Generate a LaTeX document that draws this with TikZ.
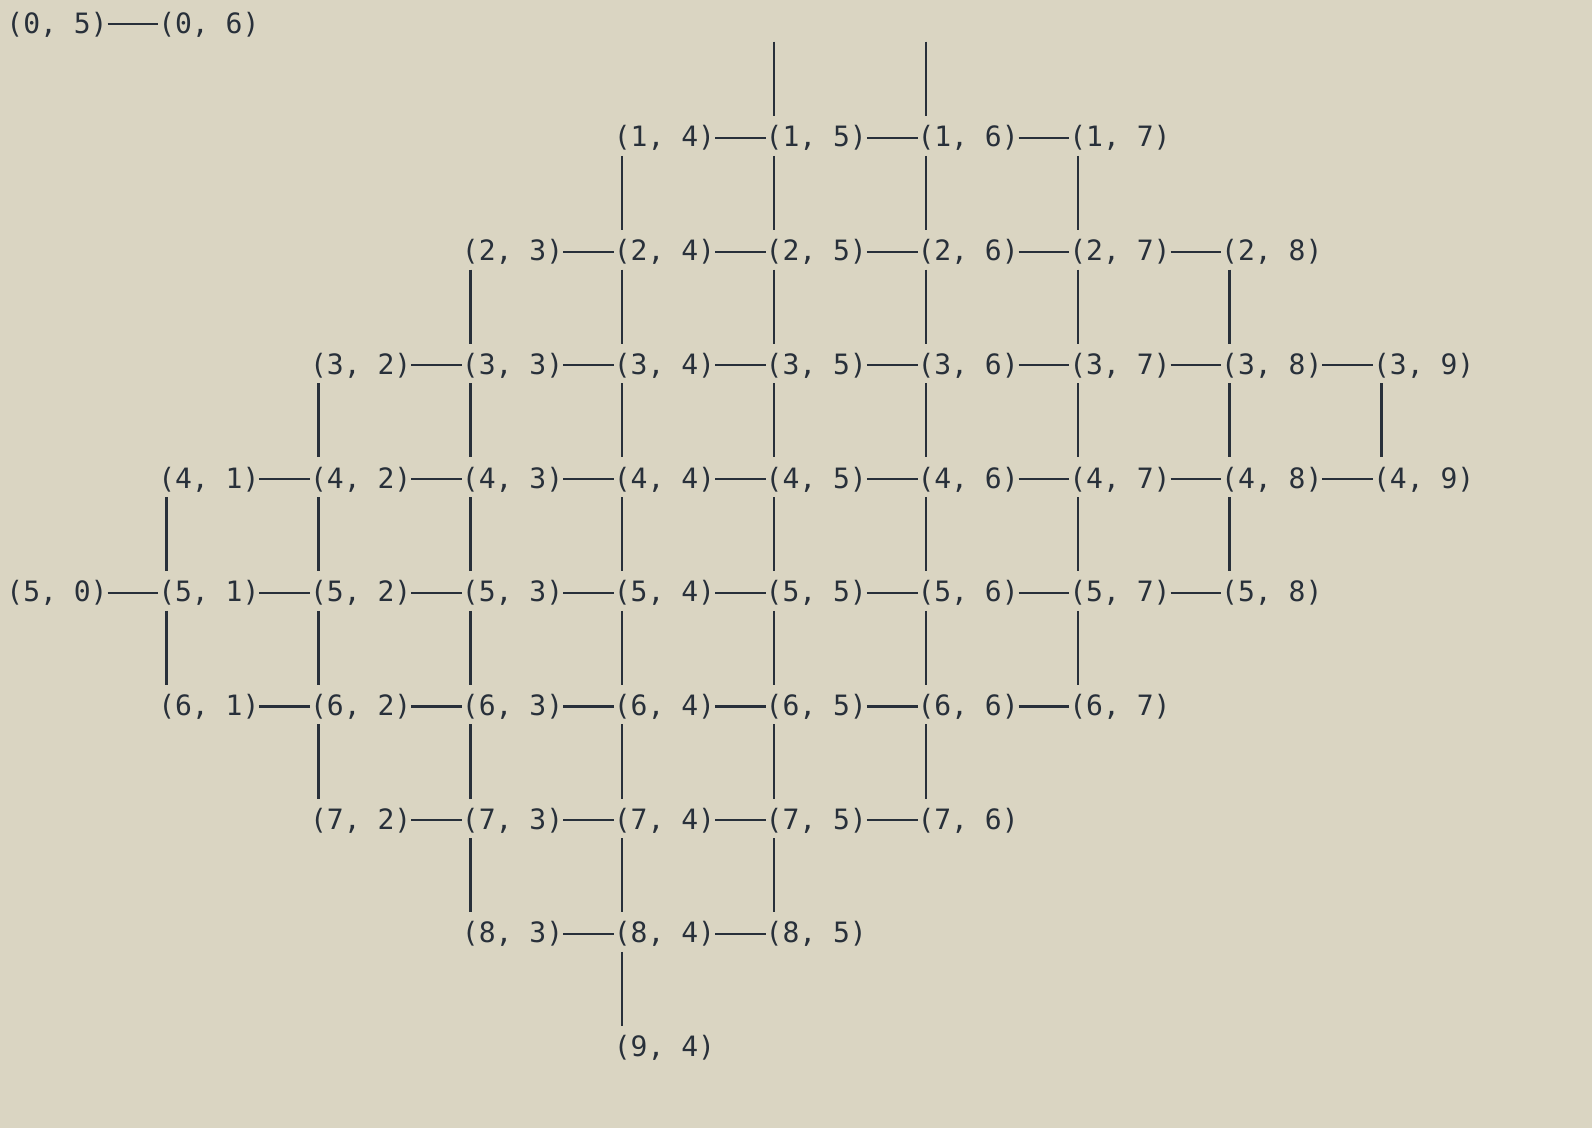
\documentclass[tikz,border=0pt]{standalone}
\usepackage{fontspec}
\newfontfamily\monofont{DejaVu Sans Mono}
\definecolor{bg}{RGB}{218,213,194}
\definecolor{ink}{RGB}{40,48,58}
\begin{document}
\begin{tikzpicture}[x=0.5pt,y=-0.5pt,
  lbl/.style={anchor=base west, inner sep=0pt, outer sep=0pt, text=ink,
    font=\monofont\fontsize{14.01}{16}\selectfont},
  hlink/.style={draw=ink, line width=1.05pt},
  vlink/.style={draw=ink, line width=1.2pt}]
\fill[bg] (0,0) rectangle (1592,1128);
\useasboundingbox (0,0) rectangle (1592,1128);
% row 0 (printed at the left)
\node[lbl] (n05) at (6.4,33.3) {(0, 5)};
\node[lbl] (n06) at ({6.4+151.85},33.3) {(0, 6)};
\draw[hlink] ([yshift=4.5pt]n05.base east) -- ([yshift=4.5pt]n06.base west);
% grid nodes
\foreach \rr/\aa/\bb in {1/4/7,2/3/8,3/2/9,4/1/9,5/0/8,6/1/7,7/2/6,8/3/5,9/4/4}{
  \foreach \cc in {\aa,...,\bb}{
    \node[lbl] (n\rr\cc) at ({6.4+151.85*\cc},{33.3+113.7*\rr}) {(\rr, \cc)};
  }
}
% horizontal connectors
\foreach \rr/\aa/\bb in {1/5/7,2/4/8,3/3/9,4/2/9,5/1/8,6/2/7,7/3/6,8/4/5}{
  \foreach \cc in {\aa,...,\bb}{
    \pgfmathtruncatemacro\pp{\cc-1}
    \draw[hlink] ([yshift=4.5pt]n\rr\pp.base east) -- ([yshift=4.5pt]n\rr\cc.base west);
  }
}
% vertical connectors
\foreach \rr/\aa/\bb in {1/4/7,2/3/8,3/2/9,4/1/8,5/1/7,6/2/6,7/3/5,8/4/4}{
  \foreach \cc in {\aa,...,\bb}{
    \pgfmathtruncatemacro\qq{\rr+1}
    \draw[vlink] ([xshift=4.2pt,yshift=-4.5pt]n\rr\cc.base west) -- ([xshift=4.2pt,yshift=15.35pt]n\qq\cc.base west);
  }
}
% free top ends above (1,5) and (1,6)
\coordinate (t5) at ({6.4+151.85*5+8.4},{33.3+8.4});
\coordinate (t6) at ({6.4+151.85*6+8.4},{33.3+8.4});
\draw[vlink] (t5) -- ([xshift=4.2pt,yshift=15.35pt]n15.base west);
\draw[vlink] (t6) -- ([xshift=4.2pt,yshift=15.35pt]n16.base west);
\end{tikzpicture}
\end{document}
